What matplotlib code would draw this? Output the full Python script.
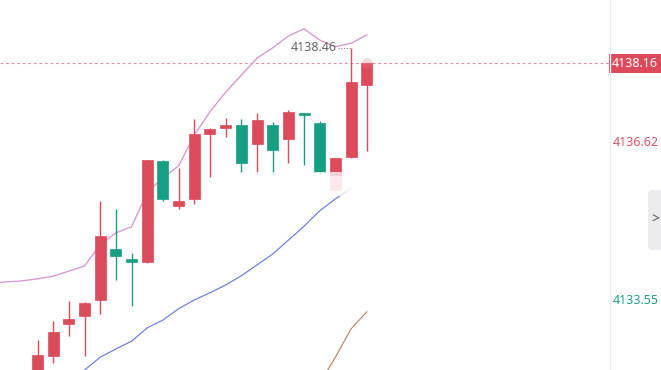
import matplotlib
matplotlib.use("Agg")
import matplotlib.pyplot as plt
from matplotlib.patches import Rectangle, FancyBboxPatch
from matplotlib.lines import Line2D
import matplotlib.transforms as mtransforms

plt.rcParams['font.family'] = ['Noto Sans', 'DejaVu Sans']

# ---- data ----
opens  = [4132.02, 4132.48, 4133.11, 4133.26, 4133.56, 4134.56, 4134.36, 4134.30, 4136.27, 4135.40, 4135.53,
          4136.78, 4136.91, 4136.96, 4136.59, 4136.96, 4136.69, 4137.19, 4137.00, 4135.70, 4136.34, 4137.73]
highs  = [4132.79, 4133.16, 4133.55, 4133.53, 4135.48, 4135.33, 4134.49, 4136.29, 4136.29, 4136.13, 4137.08,
          4136.91, 4137.10, 4137.08, 4137.20, 4137.02, 4137.25, 4137.20, 4137.04, 4136.32, 4138.46, 4138.16]
lows   = [4131.83, 4132.35, 4132.88, 4132.49, 4133.30, 4133.96, 4133.45, 4134.29, 4135.48, 4135.33, 4135.43,
          4135.96, 4136.74, 4136.06, 4136.01, 4135.99, 4136.22, 4136.19, 4136.01, 4135.66, 4136.32, 4136.45]
closes = [4132.50, 4132.95, 4133.20, 4133.52, 4134.82, 4134.43, 4134.31, 4136.28, 4135.53, 4135.49, 4136.79,
          4136.89, 4136.96, 4136.23, 4137.06, 4136.47, 4137.21, 4137.15, 4136.06, 4136.32, 4137.80, 4138.16]

upper_x = list(range(-3, 22))
upper_band = [4133.90, 4133.92, 4133.94, 4133.98, 4134.03, 4134.13, 4134.23, 4134.64, 4134.87, 4134.99,
              4135.66, 4135.94, 4136.17, 4136.77, 4137.22, 4137.60, 4137.93, 4138.26, 4138.46, 4138.69,
              4138.83, 4138.61, 4138.48, 4138.55, 4138.71]
ma_x = list(range(2, 21))
ma_line = [4132.05, 4132.21, 4132.46, 4132.62, 4132.77, 4133.03, 4133.18, 4133.40, 4133.57, 4133.71,
           4133.86, 4134.04, 4134.25, 4134.46, 4134.73, 4135.00, 4135.30, 4135.53, 4135.74]
slow_x = [18, 19, 20, 21]
slow_line = [4131.96, 4132.46, 4133.01, 4133.34]

last_price = 4138.16
axis_labels = [(4136.62, '#D9546A'), (4133.55, '#1FA086')]
high_label = 4138.46

RED = '#DD4A5A'
GREEN = '#16A083'

W, H = 661, 370
fig = plt.figure(figsize=(W / 100, H / 100), dpi=100)
ax = fig.add_axes([0, 0, 1, 1])
ax.set_axis_off()

x0px, dx = 37.5, 15.68
ax.set_xlim(-x0px / dx, (W - x0px) / dx)
ypx0, scale = 63.3, 51.56
ax.set_ylim(last_price - (H - ypx0) / scale, last_price + ypx0 / scale)

# lines
ax.plot(upper_x, upper_band, color='#D99AD6', lw=1.0, zorder=2)
ax.plot(ma_x, ma_line, color='#6F82DE', lw=0.9, zorder=2)
ax.plot(slow_x, slow_line, color='#B9805F', lw=0.8, zorder=2)

# candles
bw = 0.70
for i, (o, h, l, c) in enumerate(zip(opens, highs, lows, closes)):
    col = RED if c >= o else GREEN
    ax.plot([i, i], [l, h], color=col, lw=1.0, zorder=3, solid_capstyle='butt')
    bottom = min(o, c)
    height = max(abs(c - o), 0.045)
    ax.add_patch(Rectangle((i - bw / 2, bottom), bw, height, facecolor=col, edgecolor=col, lw=0.5, zorder=4))

# glow at last candle
ax.scatter([21], [last_price], s=60, color='#F07888', alpha=0.3, zorder=5, lw=0)

# price line
ax.plot([ax.get_xlim()[0], (610 - x0px) / dx], [last_price, last_price], color='#E88CA0', lw=0.8,
        dashes=(2.5, 2.5), zorder=1)

# watermark blur
trans_fig = fig.transFigure
for (xa, xb, ya, yb, a) in [(255, 405, 172, 196, 0.75), (262, 398, 176, 192, 0.5)]:
    fig.patches.append(Rectangle((xa / W, 1 - yb / H), (xb - xa) / W, (yb - ya) / H,
                                 transform=trans_fig, facecolor='white', edgecolor='none', alpha=a, zorder=10))

# high annotation
hi_idx = highs.index(max(highs))
bt = mtransforms.blended_transform_factory(ax.transAxes, ax.transData)
ax.text(337 / W, high_label, f'{high_label:.2f}', transform=bt,
        ha='right', va='center', fontsize=9, color='#666666', zorder=6)
ax.plot([(338 - x0px) / dx, hi_idx], [high_label, high_label], color='#888888', lw=0.8, dashes=(1, 1.5), zorder=6)

# right axis
fig.add_artist(Line2D([610 / W, 610 / W], [0, 1], color='#EDEDED', lw=1.0))
for val, col in axis_labels:
    ax.text(636 / W, val, f'{val:.2f}', transform=bt, ha='center', va='center', fontsize=9, color=col)
ax.text(635 / W, last_price, f'{last_price:.2f}', transform=bt, ha='center', va='center', fontsize=9,
        color='white', bbox=dict(boxstyle='square,pad=0.22', facecolor=RED, edgecolor='none'), zorder=8)

# side tab
fig.patches.append(FancyBboxPatch((648 / W, 1 - 250 / H), 20 / W, 60 / H, boxstyle='round,pad=0,rounding_size=0.01',
                                  transform=trans_fig, facecolor='#ECECF0', edgecolor='none', zorder=9))
fig.text(655 / W, 1 - 220 / H, '>', ha='center', va='center', fontsize=10, color='#555555', zorder=11)

fig.savefig('out.png', dpi=100, facecolor='white')
